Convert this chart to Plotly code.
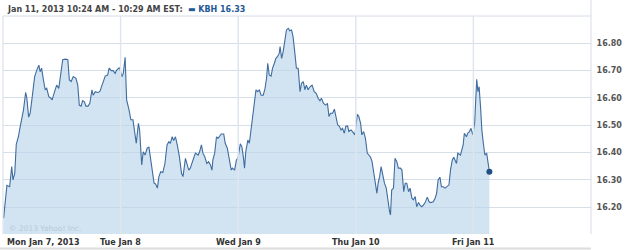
import plotly.graph_objects as go

# --- data: KBH intraday, minutes after 9:30 open, price ---
day_labels = ["Mon Jan 7, 2013", "Tue Jan 8", "Wed Jan 9", "Thu Jan 10", "Fri Jan 11"]
y_ticks = [16.20, 16.30, 16.40, 16.50, 16.60, 16.70, 16.80]

mon_min = [2, 6, 13, 22, 29, 33, 39, 44, 51, 57, 64, 68, 75, 79, 85, 90, 97, 105, 112, 119, 123, 128,
           134, 140, 145, 152, 158, 163, 171, 178, 185, 190, 198, 207, 215, 220, 226, 233, 242, 248, 253,
           259, 264, 270, 275, 282, 288, 295, 299, 306, 314, 321, 330, 339, 347, 352, 359, 365, 372, 376,
           383, 387]
mon_px = [16.16, 16.20, 16.28, 16.275, 16.349, 16.30, 16.324, 16.43, 16.458, 16.495, 16.538, 16.556,
          16.62, 16.60, 16.53, 16.544, 16.605, 16.678, 16.702, 16.72, 16.696, 16.709, 16.666, 16.63,
          16.635, 16.605, 16.60, 16.593, 16.623, 16.647, 16.635, 16.684, 16.74, 16.742, 16.74, 16.666,
          16.66, 16.678, 16.672, 16.647, 16.574, 16.57, 16.59, 16.586, 16.57, 16.57, 16.58, 16.63, 16.61,
          16.623, 16.62, 16.623, 16.654, 16.68, 16.684, 16.709, 16.70, 16.70, 16.69, 16.70, 16.709, 16.71]

tue_min = [4, 9, 15, 20, 28, 34, 41, 48, 52, 59, 63, 70, 75, 81, 88, 94, 100, 105, 111, 116, 122, 127,
           133, 140, 147, 154, 160, 165, 171, 176, 182, 189, 195, 202, 207, 215, 220, 226, 231, 239, 248,
           257, 262, 268, 273, 279, 286, 292, 298, 303, 306, 312, 318, 323, 328, 334, 342, 347, 354, 360,
           367, 371, 378, 384, 389]
tue_px = [16.678, 16.69, 16.749, 16.593, 16.556, 16.52, 16.52, 16.471, 16.434, 16.507, 16.483, 16.355,
          16.403, 16.391, 16.416, 16.42, 16.373, 16.343, 16.288, 16.285, 16.27, 16.312, 16.33, 16.327,
          16.36, 16.428, 16.44, 16.434, 16.458, 16.444, 16.458, 16.422, 16.385, 16.324, 16.312, 16.379,
          16.355, 16.336, 16.343, 16.367, 16.398, 16.391, 16.403, 16.428, 16.398, 16.385, 16.36, 16.367,
          16.355, 16.336, 16.373, 16.398, 16.458, 16.452, 16.458, 16.468, 16.468, 16.434, 16.416, 16.385,
          16.336, 16.343, 16.336, 16.373, 16.379]

wed_min = [7, 12, 17, 21, 25, 32, 37, 43, 48, 54, 59, 65, 70, 76, 83, 89, 94, 98, 103, 109, 114, 120,
           125, 130, 136, 139, 144, 149, 155, 160, 166, 171, 177, 182, 188, 193, 199, 205, 210, 216, 221,
           226, 232, 238, 245, 252, 259, 265, 271, 276, 283, 290, 296, 301, 306, 313, 319, 324, 330, 335,
           341, 346, 352, 357, 363, 367, 374, 379, 387]
wed_px = [16.432, 16.422, 16.385, 16.343, 16.403, 16.446, 16.434, 16.483, 16.544, 16.574, 16.63, 16.623,
          16.63, 16.61, 16.61, 16.635, 16.672, 16.727, 16.684, 16.68, 16.709, 16.727, 16.745, 16.751,
          16.763, 16.788, 16.745, 16.769, 16.818, 16.849, 16.855, 16.846, 16.849, 16.824, 16.763, 16.709,
          16.709, 16.623, 16.654, 16.66, 16.63, 16.647, 16.63, 16.641, 16.647, 16.623, 16.617, 16.599,
          16.59, 16.599, 16.58, 16.574, 16.58, 16.532, 16.544, 16.544, 16.559, 16.532, 16.501, 16.497,
          16.483, 16.489, 16.471, 16.497, 16.497, 16.477, 16.483, 16.477, 16.465]

thu_min = [5, 10, 16, 20, 26, 32, 38, 43, 49, 54, 60, 65, 70, 74, 79, 84, 90, 95, 101, 106, 112, 115,
           119, 125, 130, 136, 141, 148, 153, 159, 164, 169, 175, 180, 186, 191, 197, 202, 208, 213, 219,
           224, 230, 237, 243, 248, 257, 263, 268, 273, 279, 284, 290, 296, 303, 309, 314, 320, 325, 331,
           334, 338, 347, 356, 360, 367, 371, 377, 382, 388]
thu_px = [16.54, 16.532, 16.507, 16.465, 16.477, 16.452, 16.398, 16.391, 16.383, 16.367, 16.324, 16.288,
          16.251, 16.288, 16.312, 16.349, 16.312, 16.288, 16.27, 16.227, 16.184, 16.172, 16.263, 16.27,
          16.379, 16.367, 16.343, 16.343, 16.336, 16.257, 16.288, 16.288, 16.257, 16.27, 16.233, 16.227,
          16.239, 16.202, 16.217, 16.208, 16.202, 16.208, 16.217, 16.237, 16.22, 16.217, 16.22, 16.233,
          16.251, 16.30, 16.31, 16.275, 16.275, 16.27, 16.275, 16.282, 16.336, 16.373, 16.383, 16.367,
          16.36, 16.398, 16.391, 16.428, 16.471, 16.458, 16.471, 16.477, 16.489, 16.465]

fri_min = [4, 7, 11, 15, 19, 24, 28, 33, 38, 44, 48, 53]
fri_px = [16.507, 16.574, 16.668, 16.623, 16.641, 16.562, 16.483, 16.434, 16.391, 16.398, 16.373, 16.33]

days_min = [mon_min, tue_min, wed_min, thu_min, fri_min]
days_px = [mon_px, tue_px, wed_px, thu_px, fri_px]
SESSION = 390.0

x, y = [], []
for d, (mins, pxs) in enumerate(zip(days_min, days_px)):
    for m, p in zip(mins, pxs):
        x.append(d + m / SESSION)
        y.append(p)

LINE = "#3f6c9e"
FILL = "rgba(186,212,234,0.65)"
GRID = "#d6dee8"
TXT = "#333333"
FONT = "DejaVu Sans"

fig = go.Figure()
fig.add_trace(go.Scatter(x=x, y=y, mode="lines", line=dict(color=LINE, width=1.1),
                         fill="tozeroy", fillcolor=FILL, hoverinfo="skip"))
fig.add_trace(go.Scatter(x=[x[-1]], y=[y[-1]], mode="markers",
                         marker=dict(color="#1f4f86", size=6), hoverinfo="skip"))

W, H = 625, 250
ml, mr, mt, mb = 3, 31, 16, 16
pw = W - ml - mr
ph = H - mt - mb

def px_x(p):
    return (p - ml) / pw

def px_y(p):
    return (H - mb - p) / ph

shapes = []
# day separators above the fill
for d in range(1, 5):
    shapes.append(dict(type="line", xref="x", yref="paper", x0=d, x1=d, y0=0, y1=1,
                       line=dict(color="#dfe6ee", width=1.5), layer="above"))
# frame
shapes.append(dict(type="line", xref="paper", yref="paper", x0=0, x1=0, y0=0, y1=1,
                   line=dict(color="#d6dde6", width=1), layer="above"))
shapes.append(dict(type="line", xref="paper", yref="paper", x0=0, x1=1, y0=1, y1=1,
                   line=dict(color="#d6dde6", width=1), layer="above"))
shapes.append(dict(type="line", xref="paper", yref="paper", x0=1, x1=1, y0=0, y1=px_y(0),
                   line=dict(color="#d6dde6", width=1), layer="above"))
# bottom rule under the date labels
shapes.append(dict(type="line", xref="paper", yref="paper", x0=px_x(0), x1=1, y0=px_y(248.5), y1=px_y(248.5),
                   line=dict(color="#dcdcdc", width=2), layer="above"))

annotations = []
for d, lab in enumerate(day_labels):
    if d == 0:
        annotations.append(dict(x=px_x(5), xref="paper", y=px_y(242), yref="paper", text="<b>%s</b>" % lab,
                                showarrow=False, xanchor="left", yanchor="middle",
                                font=dict(family=FONT, size=8, color=TXT)))
    else:
        annotations.append(dict(x=d, xref="x", y=px_y(242), yref="paper", text="<b>%s</b>" % lab,
                                showarrow=False, xanchor="center", yanchor="middle",
                                font=dict(family=FONT, size=8, color=TXT)))

annotations.append(dict(x=px_x(5), xref="paper", y=px_y(9), yref="paper",
                        text="<b>Jan 11, 2013 10:24 AM - 10:29 AM EST:</b>  "
                             "<span style='color:#1f5a96'><b>▬ KBH 16.33</b></span>",
                        showarrow=False, xanchor="left", yanchor="middle",
                        font=dict(family=FONT, size=8, color="#444444")))
annotations.append(dict(x=px_x(7), xref="paper", y=px_y(228), yref="paper",
                        text="© 2013 Yahoo! Inc.", showarrow=False, xanchor="left", yanchor="middle",
                        font=dict(family=FONT, size=7.5, color="#b9c9d8")))

fig.update_layout(
    width=W, height=H,
    margin=dict(l=ml, r=mr, t=mt, b=mb, pad=0),
    paper_bgcolor="white", plot_bgcolor="white",
    showlegend=False,
    xaxis=dict(range=[0, 5], showgrid=False, showticklabels=False, zeroline=False,
               showline=False, ticks="", fixedrange=True),
    yaxis=dict(range=[16.102, 16.90], side="right", tickvals=y_ticks,
               ticktext=["<b>%.2f</b>" % v for v in y_ticks],
               showgrid=True, gridcolor=GRID, gridwidth=1, zeroline=False, showline=False,
               ticks="outside", ticklen=3, tickcolor="rgba(0,0,0,0)",
               tickfont=dict(family=FONT, size=8, color="#555555"), fixedrange=True),
    shapes=shapes, annotations=annotations,
)

fig.write_html("out.html")
